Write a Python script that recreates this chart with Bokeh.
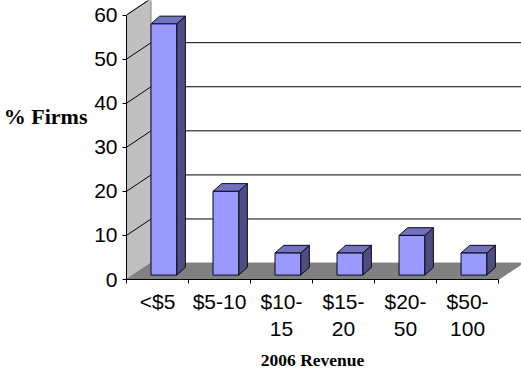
from bokeh.plotting import figure
from bokeh.models import FixedTicker, LinearAxis
from bokeh.embed import file_html
from bokeh.resources import INLINE

categories = ["<$5", "$5-10", "$10-\n15", "$15-\n20", "$20-\n50", "$50-\n100"]
shares = [57, 19, 5, 5, 9, 5]
y_ticks = [0, 10, 20, 30, 40, 50, 60]
y_caption = "% Firms"
x_caption = "2006 Revenue"

# Oblique depth of the 3D box, in axis units
DEPTH_X, DEPTH_Y = 0.395, 3.73
BAR_W, BAR_DX, BAR_DY = 0.414, 0.14, 1.75
BAR_X0, BAR_Y0 = 0.395, 1.0
FRONT, TOP, SIDE = "#9999FF", "#7272BF", "#4D4D80"
EDGE = "#080818"
X_END = 6.37
Y_END = 63.3

p = figure(width=521, height=372, output_backend="svg", toolbar_location=None,
           x_range=(0, X_END), y_range=(0, Y_END),
           min_border_left=126, min_border_right=0, min_border_top=0, min_border_bottom=93)
p.outline_line_color = None
p.grid.visible = False
p.background_fill_color = "white"
p.border_fill_color = "white"

n = len(categories)

# Side wall and floor
p.patch([0, DEPTH_X, DEPTH_X, 0], [0, DEPTH_Y, 60 + DEPTH_Y, 60],
        fill_color="#C0C0C0", line_color="#808080", line_width=1)
p.patch([0, DEPTH_X, n + DEPTH_X, n], [0, DEPTH_Y, DEPTH_Y, 0],
        fill_color="#808080", line_color="#808080", line_width=1)
p.line([n + DEPTH_X, n + DEPTH_X], [DEPTH_Y, 60 + DEPTH_Y], line_color="#C0C0C0", line_width=1)

# Gridlines run across the wall and then the back plane
for t in y_ticks[1:]:
    p.line([0, DEPTH_X, n + DEPTH_X], [t, t + DEPTH_Y, t + DEPTH_Y],
           line_color="black", line_width=1)

# Each bar is three faces: side, top, front
for i, v in enumerate(shares):
    x0 = i + BAR_X0
    x1 = x0 + BAR_W
    y0 = BAR_Y0
    y1 = BAR_Y0 + v
    p.patch([x1, x1 + BAR_DX, x1 + BAR_DX, x1], [y0, y0 + BAR_DY, y1 + BAR_DY, y1],
            fill_color=SIDE, line_color=EDGE, line_width=1)
    p.patch([x0, x1, x1 + BAR_DX, x0 + BAR_DX], [y1, y1, y1 + BAR_DY, y1 + BAR_DY],
            fill_color=TOP, line_color=EDGE, line_width=1)
    p.patch([x0, x1, x1, x0], [y0, y0, y1, y1],
            fill_color=FRONT, line_color=EDGE, line_width=1)

# Axes
ya = p.yaxis[0]
ya.ticker = FixedTicker(ticks=y_ticks)
ya.bounds = (0, 60)
ya.major_label_text_font = "Liberation Sans"
ya.major_label_text_font_size = "21px"
ya.major_label_text_color = "black"
ya.major_tick_in = 0
ya.major_tick_out = 4
ya.minor_tick_line_color = None
ya.major_label_standoff = 5

centers = [i + 0.5 for i in range(n)]
xa = p.xaxis[0]
xa.ticker = FixedTicker(ticks=centers, minor_ticks=list(range(n + 1)))
xa.bounds = (0, n)
xa.major_label_overrides = {c: l for c, l in zip(centers, categories)}
xa.major_label_text_font = "Liberation Sans"
xa.major_label_text_font_size = "21px"
xa.major_label_text_color = "black"
xa.major_tick_line_color = None
xa.major_tick_in = 0
xa.major_tick_out = 4
xa.minor_tick_in = 0
xa.minor_tick_out = 4
xa.major_label_standoff = 6


def caption_axis(at, text, size, standoff):
    """A bare axis whose single tick label serves as a caption placed along the scale."""
    axis = LinearAxis(ticker=FixedTicker(ticks=[at]), major_label_overrides={at: text})
    axis.axis_line_color = None
    axis.major_tick_line_color = None
    axis.minor_tick_line_color = None
    axis.major_tick_in = 0
    axis.major_tick_out = 0
    axis.major_label_standoff = standoff
    axis.major_label_text_font = "Liberation Serif"
    axis.major_label_text_font_size = size
    axis.major_label_text_font_style = "bold"
    axis.major_label_text_color = "black"
    return axis


p.add_layout(caption_axis(37, y_caption, "22px", 4), "left")
p.add_layout(caption_axis(3, x_caption, "17.5px", 6), "below")

open("out.html", "w").write(file_html(p, INLINE))
